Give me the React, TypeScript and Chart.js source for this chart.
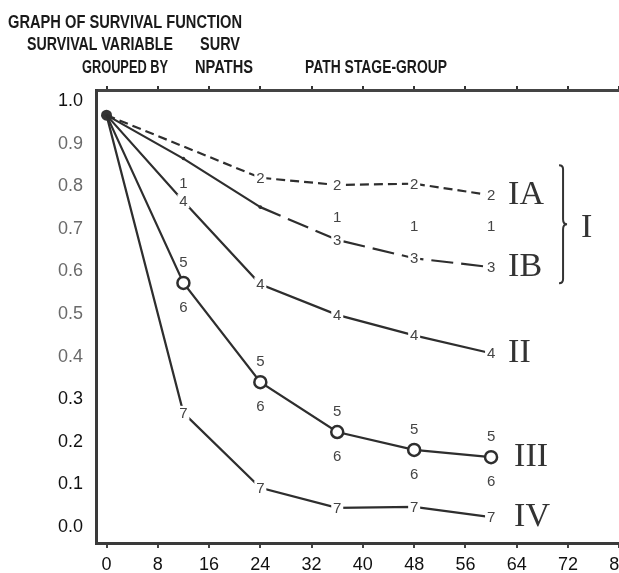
import React, { useEffect, useRef } from "react";
import { Chart, registerables } from "chart.js";

Chart.register(...registerables);

// ---- data ----
const months = [0, 12, 24, 36, 48, 60];
const xTickValues = [0, 8, 16, 24, 32, 40, 48, 56, 64, 72, 80];
const yTickValues = [0, 0.1, 0.2, 0.3, 0.4, 0.5, 0.6, 0.7, 0.8, 0.9, 1.0];

const group1 = [null, 0.807, null, 0.728, 0.707, 0.707];
const group2 = [0.967, null, 0.82, 0.803, 0.806, 0.779];
const group3 = [0.967, 0.865, 0.751, 0.674, 0.631, 0.61];
const group4 = [0.967, 0.765, 0.57, 0.498, 0.45, 0.408];
const group5 = [0.967, 0.573, 0.34, 0.223, 0.181, 0.164];
const group6 = [null, 0.573, 0.34, 0.223, 0.181, 0.164];
const group7 = [0.967, 0.268, 0.092, 0.045, 0.047, 0.023];

const stageNames = ["IA", "IB", "II", "III", "IV"];
const stageGroupName = "I";

const headerTitle = "GRAPH OF SURVIVAL FUNCTION";
const headerVarLabel = "SURVIVAL VARIABLE";
const headerVar = "SURV";
const headerGroupLabel = "GROUPED BY";
const headerGroupVar = "NPATHS";
const headerGroupDesc = "PATH STAGE-GROUP";

const INK = "#2e2e2e";
const SANS = "'Liberation Sans', Arial, sans-serif";
const SERIF = "'Liberation Serif', 'Times New Roman', serif";

function pts(values: (number | null)[]) {
  return months.map((m, i) => ({ x: m, y: values[i] }));
}

const pointLabelPlugin = {
  id: "pointLabels",
  afterDatasetsDraw(chart: any) {
    const ctx = chart.ctx;
    ctx.save();
    ctx.font = `15px ${SANS}`;
    ctx.textAlign = "center";
    ctx.textBaseline = "middle";
    chart.data.datasets.forEach((ds: any, di: number) => {
      if (!ds.code) return;
      const meta = chart.getDatasetMeta(di);
      meta.data.forEach((el: any, i: number) => {
        const raw = ds.data[i];
        if (!raw || raw.y == null) return;
        if (i < (ds.codeFrom ?? 1)) return;
        const dy = ds.codeDy || 0;
        const x = el.x;
        const y = el.y + dy;
        if (!dy) {
          ctx.fillStyle = "#ffffff";
          ctx.fillRect(x - 6, y - 7, 12, 14);
        }
        ctx.fillStyle = "#444";
        ctx.fillText(ds.code, x, y + 1);
      });
    });
    ctx.restore();
  },
};

const annotationPlugin = {
  id: "annotations",
  beforeDraw(chart: any) {
    const ctx = chart.ctx;
    ctx.save();
    ctx.fillStyle = "#ffffff";
    ctx.fillRect(0, 0, chart.width, chart.height);
    ctx.restore();
  },
  afterDraw(chart: any) {
    const ctx = chart.ctx;
    ctx.save();
    // header
    ctx.fillStyle = "#1a1a1a";
    ctx.font = `bold 18px ${SANS}`;
    ctx.textAlign = "left";
    ctx.textBaseline = "alphabetic";
    ctx.fillText(headerTitle, 8, 28, 234);
    ctx.fillText(headerVarLabel, 27, 50, 146);
    ctx.fillText(headerVar, 200, 50, 40);
    ctx.fillText(headerGroupLabel, 82, 73, 86);
    ctx.fillText(headerGroupVar, 195, 73, 58);
    ctx.fillText(headerGroupDesc, 305, 73, 142);

    // stage labels next to the last point of each curve
    const stageSets = ["g2", "g3", "g4", "g5", "g7"];
    ctx.font = `34px ${SERIF}`;
    ctx.fillStyle = "#333";
    const lastPts: any[] = [];
    stageSets.forEach((id, k) => {
      const di = chart.data.datasets.findIndex((d: any) => d.id === id);
      const meta = chart.getDatasetMeta(di);
      const el = meta.data[meta.data.length - 1];
      lastPts.push(el);
      const dx = id === "g5" || id === "g7" ? 23 : 17;
      ctx.fillText(stageNames[k], el.x + dx, el.y + 9);
    });

    // bracket joining IA and IB
    const pA = lastPts[0];
    const pB = lastPts[1];
    const bx = pA.x + 72;
    const top = pA.y - 30;
    const bottom = pB.y + 16;
    const mid = (top + bottom) / 2;
    ctx.strokeStyle = "#333";
    ctx.lineWidth = 2;
    ctx.beginPath();
    ctx.moveTo(bx - 4, top);
    ctx.quadraticCurveTo(bx, top, bx, top + 4);
    ctx.lineTo(bx, mid - 5);
    ctx.quadraticCurveTo(bx, mid, bx + 4, mid);
    ctx.quadraticCurveTo(bx, mid, bx, mid + 5);
    ctx.lineTo(bx, bottom - 4);
    ctx.quadraticCurveTo(bx, bottom, bx - 4, bottom);
    ctx.stroke();
    ctx.fillText(stageGroupName, bx + 18, mid + 13);
    ctx.restore();
  },
};

export default function App() {
  const ref = useRef<HTMLCanvasElement | null>(null);

  useEffect(() => {
    if (!ref.current) return;
    const xMin = -1.64;
    const xMax = 84.8;
    const common = {
      borderColor: INK,
      borderWidth: 2.2,
      spanGaps: true,
      pointRadius: 0,
      pointHoverRadius: 0,
    };
    const chart = new Chart(ref.current, {
      type: "line",
      data: {
        datasets: [
          { id: "g1", code: "1", ...common, data: pts(group1), showLine: false },
          { id: "g2", code: "2", codeFrom: 2, ...common, data: pts(group2), borderDash: [9, 5] },
          {
            id: "g3",
            code: "3",
            codeFrom: 3,
            ...common,
            data: pts(group3),
            pointRadius: [0, 1.8, 1.8, 0, 0, 0],
            pointBackgroundColor: INK,
            pointBorderWidth: 0,
            segment: {
              borderDash: (c: any) => (c.p0DataIndex >= 2 ? [22, 8] : undefined),
            },
          },
          { id: "g4", code: "4", ...common, data: pts(group4) },
          {
            id: "g5",
            code: "5",
            codeDy: -21,
            ...common,
            data: pts(group5),
            pointRadius: [0, 6, 6, 6, 6, 6],
            pointBorderWidth: 2.5,
            pointBorderColor: INK,
            pointBackgroundColor: "#ffffff",
          },
          { id: "g6", code: "6", codeDy: 24, ...common, data: pts(group6), showLine: false },
          {
            id: "g7",
            code: "7",
            ...common,
            data: pts(group7),
            pointRadius: [5.5, 0, 0, 0, 0, 0],
            pointBackgroundColor: "#333",
            pointBorderWidth: 0,
          },
        ] as any,
      },
      options: {
        animation: false,
        responsive: false,
        devicePixelRatio: 1,
        events: [],
        layout: { padding: { top: 85, right: 10, left: 0, bottom: 0 } },
        plugins: {
          legend: { display: false },
          tooltip: { enabled: false },
          title: { display: false },
        },
        scales: {
          x: {
            type: "linear",
            position: "bottom",
            min: xMin,
            max: xMax,
            afterBuildTicks: (s: any) => {
              s.ticks = xTickValues.map((v) => ({ value: v }));
            },
            afterFit: (s: any) => {
              s.height = 30;
            },
            ticks: {
              autoSkip: false,
              maxRotation: 0,
              padding: 6,
              color: "#111",
              font: { family: SANS, size: 18 },
              callback: (v: any) => String(v),
            },
            grid: {
              display: true,
              drawOnChartArea: false,
              drawTicks: true,
              tickLength: 5,
              color: "#444",
              lineWidth: 2,
            },
            border: { display: true, color: "#3a3a3a", width: 3 },
          },
          xTop: {
            type: "linear",
            position: "top",
            min: xMin,
            max: xMax,
            afterBuildTicks: (s: any) => {
              s.ticks = xTickValues.map((v) => ({ value: v }));
            },
            afterFit: (s: any) => {
              s.height = 5;
            },
            ticks: { display: false },
            grid: {
              display: true,
              drawOnChartArea: false,
              drawTicks: true,
              tickLength: 4,
              color: "#333",
              lineWidth: 2,
            },
            border: { display: true, color: "#444", width: 3 },
          },
          y: {
            type: "linear",
            position: "left",
            min: -0.0376,
            max: 1.026,
            afterBuildTicks: (s: any) => {
              s.ticks = yTickValues.map((v) => ({ value: v }));
            },
            afterFit: (s: any) => {
              s.width = 96;
            },
            ticks: {
              padding: 5,
              font: { family: SANS, size: 18 },
              color: (c: any) => {
                const v = c.tick ? c.tick.value : 0;
                return v > 0.35 && v < 0.95 ? "#6a6a6a" : "#111";
              },
              callback: (v: any) => Number(v).toFixed(1),
            },
            grid: { display: false },
            border: { display: true, color: "#3a3a3a", width: 3 },
          },
        },
      } as any,
      plugins: [pointLabelPlugin, annotationPlugin],
    });
    return () => chart.destroy();
  }, []);

  return (
    <div
      style={{
        position: "absolute",
        left: 0,
        top: 0,
        width: 619,
        height: 573,
        overflow: "hidden",
        background: "#fff",
      }}
    >
      <canvas ref={ref} width={660} height={573} style={{ display: "block" }} />
    </div>
  );
}
